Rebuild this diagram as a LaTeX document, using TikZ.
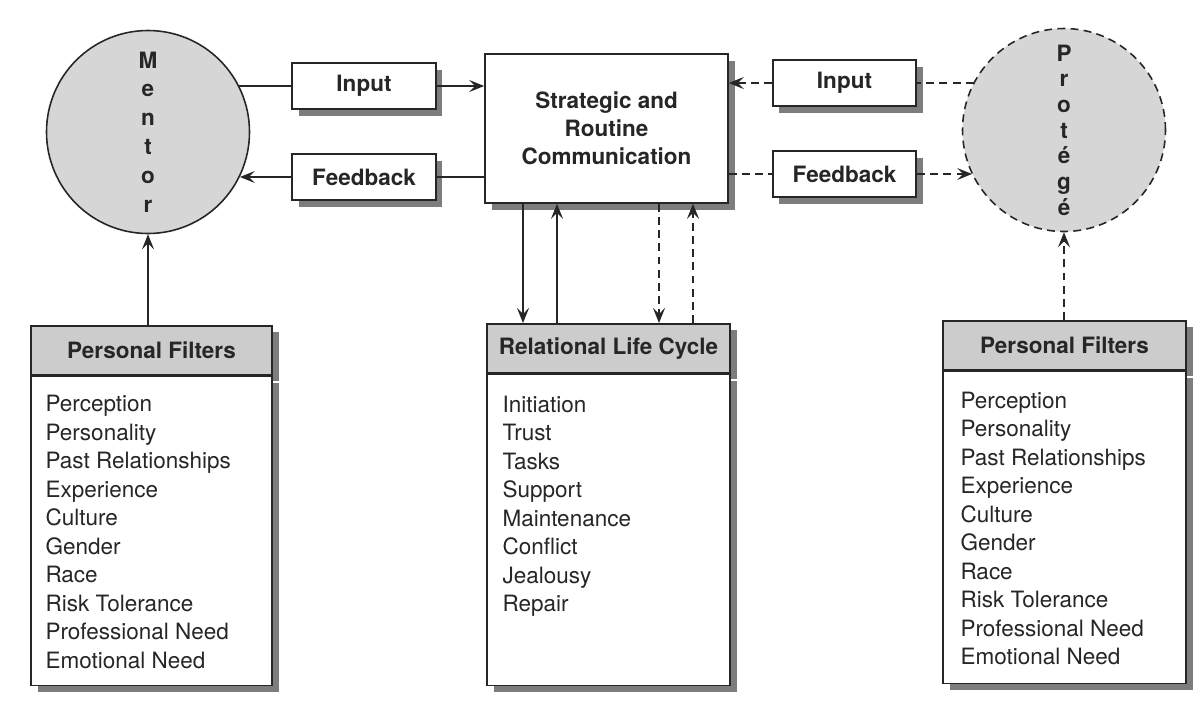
\documentclass[tikz,border=0pt]{standalone}
\usepackage{fontspec}
\setmainfont{TeX Gyre Heros}
\usetikzlibrary{arrows.meta,shadows}
\definecolor{discfill}{RGB}{214,214,214}
\definecolor{headfill}{RGB}{204,204,204}
\definecolor{shadecol}{RGB}{125,125,125}
\definecolor{inkcol}{RGB}{38,38,38}

\begin{document}
\begin{tikzpicture}[
    every node/.style={text=inkcol},
    line/.style={draw=inkcol, line width=0.9pt},
    arr/.style={line, -{Stealth[length=3mm, width=2.4mm, inset=1.2mm]}},
    dashline/.style={line, dash pattern=on 4.5pt off 3pt},
    darr/.style={arr, dash pattern=on 4.5pt off 3pt},
    boxshadow/.style={drop shadow={shadow xshift=0.13cm, shadow yshift=-0.13cm, fill=shadecol, opacity=1}},
    box/.style={rectangle, draw=inkcol, line width=0.9pt, fill=white, boxshadow, align=center, inner sep=0pt, font=\fontsize{12.8}{16}\selectfont\bfseries},
    smallbox/.style={box, minimum width=2.87cm, minimum height=0.92cm},
    disc/.style={circle, draw=inkcol, line width=0.9pt, fill=discfill, minimum size=4.06cm, inner sep=0pt, align=center},
    head/.style={box, fill=headfill, minimum height=0.98cm},
    body/.style={box, anchor=north},
    listtext/.style={anchor=north west, align=left, inner sep=0pt, font=\fontsize{12.8}{16.2}\selectfont},
]
    \useasboundingbox (0,0) rectangle (24.04,-14.1);

    % the two partners
    \node[disc, font=\fontsize{12.8}{16.4}\selectfont\bfseries] (mentor) at (2.96,-2.64) {M\\e\\n\\t\\o\\r};
    \node[disc, dash pattern=on 4.5pt off 3pt, font=\fontsize{12.8}{14.6}\selectfont\bfseries] (protege) at (21.28,-2.60) {P\\r\\o\\t\\é\\g\\é};

    % communication boxes
    \node[smallbox] (inL) at (7.28,-1.72) {Input};
    \node[smallbox] (fbL) at (7.28,-3.54) {Feedback};
    \node[box, minimum width=4.86cm, minimum height=2.98cm] (comm) at (12.13,-2.57) {Strategic and\\Routine\\Communication};
    \node[smallbox] (inR) at (16.89,-1.66) {Input};
    \node[smallbox] (fbR) at (16.89,-3.48) {Feedback};

    % filter and life cycle tables
    \node[head, minimum width=4.82cm, anchor=north] (filtLhead) at (3.03,-6.50) {Personal Filters};
    \node[body, minimum width=4.82cm, minimum height=6.18cm] (filtLbody) at (filtLhead.south) {};
    \node[head, minimum width=4.86cm, anchor=north] (cycleHead) at (12.17,-6.46) {Relational Life Cycle};
    \node[body, minimum width=4.86cm, minimum height=6.22cm] (cycleBody) at (cycleHead.south) {};
    \node[head, minimum width=4.86cm, anchor=north] (filtRhead) at (21.29,-6.40) {Personal Filters};
    \node[body, minimum width=4.86cm, minimum height=6.24cm] (filtRbody) at (filtRhead.south) {};

    \node[listtext] (filtLlist) at ([xshift=0.30cm, yshift=-0.39cm]filtLbody.north west)
        {Perception\\Personality\\Past Relationships\\Experience\\Culture\\Gender\\Race\\Risk Tolerance\\Professional Need\\Emotional Need};
    \node[listtext] (cycleList) at ([xshift=0.32cm, yshift=-0.44cm]cycleBody.north west)
        {Initiation\\Trust\\Tasks\\Support\\Maintenance\\Conflict\\Jealousy\\Repair};
    \node[listtext] (filtRlist) at ([xshift=0.36cm, yshift=-0.42cm]filtRbody.north west)
        {Perception\\Personality\\Past Relationships\\Experience\\Culture\\Gender\\Race\\Risk Tolerance\\Professional Need\\Emotional Need};

    % mentor side: solid
    \draw[line] (inL.west -| mentor.27) -- (inL.west);
    \draw[arr] (inL.east) -- (inL.east -| comm.west);
    \draw[line] (fbL.east -| comm.west) -- (fbL.east);
    \draw[arr] (fbL.west) -- (fbL.west -| mentor.334);
    \draw[arr] (mentor.south |- filtLhead.north) -- (mentor.south);

    % protege side: dashed
    \draw[dashline] (inR.east -| protege.152) -- (inR.east);
    \draw[darr] (inR.west) -- (inR.west -| comm.east);
    \draw[dashline] (fbR.west -| comm.east) -- (fbR.west);
    \draw[darr] (fbR.east) -- (fbR.east -| protege.206);
    \draw[darr] (protege.south |- filtRhead.north) -- (protege.south);

    % links to the life cycle
    \draw[arr] ([xshift=-1.67cm]comm.south) -- ([xshift=-1.67cm]comm.south |- cycleHead.north);
    \draw[arr] ([xshift=-0.99cm]comm.south |- cycleHead.north) -- ([xshift=-0.99cm]comm.south);
    \draw[darr] ([xshift=1.05cm]comm.south) -- ([xshift=1.05cm]comm.south |- cycleHead.north);
    \draw[darr] ([xshift=1.73cm]comm.south |- cycleHead.north) -- ([xshift=1.73cm]comm.south);

\end{tikzpicture}
\end{document}
